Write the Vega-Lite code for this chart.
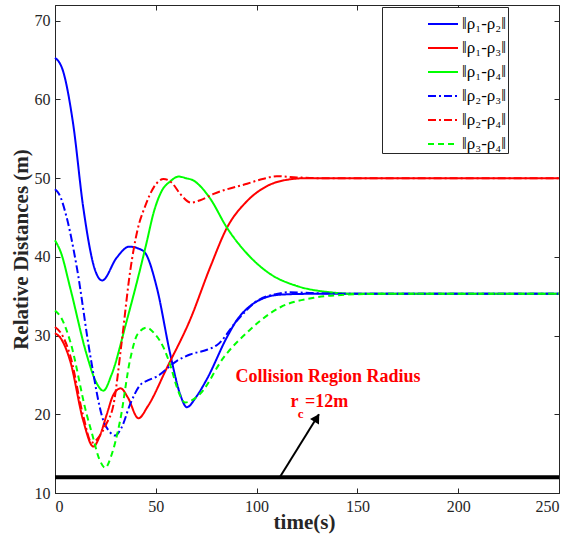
{
  "$schema": "https://vega.github.io/schema/vega-lite/v6.json",
  "width": 504,
  "height": 488,
  "autosize": {"type": "none"},
  "padding": {"left": 55, "top": 5, "right": 12, "bottom": 42},
  "background": "white",
  "config": {
    "view": {"stroke": "#262626", "strokeWidth": 1},
    "font": "Liberation Serif",
    "axis": {
      "grid": false,
      "labelFont": "Liberation Serif",
      "labelFontSize": 16,
      "labelColor": "#262626",
      "titleFont": "Liberation Serif",
      "titleFontSize": 21,
      "titleFontWeight": "bold",
      "titleColor": "#262626",
      "tickColor": "#262626",
      "domainColor": "#262626",
      "tickSize": -5,
      "labelPadding": 10
    },
    "legend": {"labelFont": "Liberation Serif"}
  },
  "datasets": {
    "curves": [
      {"series": "‖ρ₁-ρ₂‖", "t": 0, "v": 65.3}, {"series": "‖ρ₁-ρ₂‖", "t": 4, "v": 63.6}, {"series": "‖ρ₁-ρ₂‖", "t": 9, "v": 56.9}, {"series": "‖ρ₁-ρ₂‖", "t": 14, "v": 46.3}, {"series": "‖ρ₁-ρ₂‖", "t": 19.9, "v": 38.3}, {"series": "‖ρ₁-ρ₂‖", "t": 23.4, "v": 37.0}, {"series": "‖ρ₁-ρ₂‖", "t": 30.6, "v": 39.9}, {"series": "‖ρ₁-ρ₂‖", "t": 36.8, "v": 41.3}, {"series": "‖ρ₁-ρ₂‖", "t": 42, "v": 41.0}, {"series": "‖ρ₁-ρ₂‖", "t": 45, "v": 40.4}, {"series": "‖ρ₁-ρ₂‖", "t": 50.5, "v": 36.1}, {"series": "‖ρ₁-ρ₂‖", "t": 57.2, "v": 27.6}, {"series": "‖ρ₁-ρ₂‖", "t": 62, "v": 22.6}, {"series": "‖ρ₁-ρ₂‖", "t": 65.4, "v": 20.9}, {"series": "‖ρ₁-ρ₂‖", "t": 70, "v": 22.2}, {"series": "‖ρ₁-ρ₂‖", "t": 75.4, "v": 24.5}, {"series": "‖ρ₁-ρ₂‖", "t": 85.3, "v": 29.8}, {"series": "‖ρ₁-ρ₂‖", "t": 90.3, "v": 32.0}, {"series": "‖ρ₁-ρ₂‖", "t": 97, "v": 33.8}, {"series": "‖ρ₁-ρ₂‖", "t": 103, "v": 34.7}, {"series": "‖ρ₁-ρ₂‖", "t": 111.8, "v": 35.2}, {"series": "‖ρ₁-ρ₂‖", "t": 125, "v": 35.3}, {"series": "‖ρ₁-ρ₂‖", "t": 175, "v": 35.3}, {"series": "‖ρ₁-ρ₂‖", "t": 250, "v": 35.3},
      {"series": "‖ρ₁-ρ₃‖", "t": 0, "v": 30.3}, {"series": "‖ρ₁-ρ₃‖", "t": 3, "v": 29.6}, {"series": "‖ρ₁-ρ₃‖", "t": 7.5, "v": 26.8}, {"series": "‖ρ₁-ρ₃‖", "t": 14, "v": 19.2}, {"series": "‖ρ₁-ρ₃‖", "t": 19, "v": 15.9}, {"series": "‖ρ₁-ρ₃‖", "t": 22.3, "v": 17.3}, {"series": "‖ρ₁-ρ₃‖", "t": 25.7, "v": 20.0}, {"series": "‖ρ₁-ρ₃‖", "t": 29, "v": 22.5}, {"series": "‖ρ₁-ρ₃‖", "t": 32.6, "v": 23.3}, {"series": "‖ρ₁-ρ₃‖", "t": 36, "v": 22.2}, {"series": "‖ρ₁-ρ₃‖", "t": 41.4, "v": 19.5}, {"series": "‖ρ₁-ρ₃‖", "t": 46, "v": 21.0}, {"series": "‖ρ₁-ρ₃‖", "t": 55.5, "v": 25.9}, {"series": "‖ρ₁-ρ₃‖", "t": 67, "v": 32.0}, {"series": "‖ρ₁-ρ₃‖", "t": 77, "v": 38.7}, {"series": "‖ρ₁-ρ₃‖", "t": 85.3, "v": 43.7}, {"series": "‖ρ₁-ρ₃‖", "t": 95.3, "v": 47.1}, {"series": "‖ρ₁-ρ₃‖", "t": 105.2, "v": 49.0}, {"series": "‖ρ₁-ρ₃‖", "t": 115.2, "v": 49.8}, {"series": "‖ρ₁-ρ₃‖", "t": 125, "v": 50.0}, {"series": "‖ρ₁-ρ₃‖", "t": 175, "v": 50.0}, {"series": "‖ρ₁-ρ₃‖", "t": 250, "v": 50.0},
      {"series": "‖ρ₁-ρ₄‖", "t": 0, "v": 42.1}, {"series": "‖ρ₁-ρ₄‖", "t": 3, "v": 40.5}, {"series": "‖ρ₁-ρ₄‖", "t": 7.5, "v": 36.1}, {"series": "‖ρ₁-ρ₄‖", "t": 15.7, "v": 27.6}, {"series": "‖ρ₁-ρ₄‖", "t": 20, "v": 24.3}, {"series": "‖ρ₁-ρ₄‖", "t": 24, "v": 23.0}, {"series": "‖ρ₁-ρ₄‖", "t": 28, "v": 25.0}, {"series": "‖ρ₁-ρ₄‖", "t": 35.6, "v": 31.9}, {"series": "‖ρ₁-ρ₄‖", "t": 42.2, "v": 38.4}, {"series": "‖ρ₁-ρ₄‖", "t": 45.6, "v": 42.0}, {"series": "‖ρ₁-ρ₄‖", "t": 48.9, "v": 45.6}, {"series": "‖ρ₁-ρ₄‖", "t": 53, "v": 48.4}, {"series": "‖ρ₁-ρ₄‖", "t": 57.2, "v": 49.6}, {"series": "‖ρ₁-ρ₄‖", "t": 61.3, "v": 50.2}, {"series": "‖ρ₁-ρ₄‖", "t": 65, "v": 50.0}, {"series": "‖ρ₁-ρ₄‖", "t": 68.7, "v": 49.7}, {"series": "‖ρ₁-ρ₄‖", "t": 72, "v": 49.0}, {"series": "‖ρ₁-ρ₄‖", "t": 77, "v": 47.4}, {"series": "‖ρ₁-ρ₄‖", "t": 85.3, "v": 43.7}, {"series": "‖ρ₁-ρ₄‖", "t": 95.3, "v": 40.4}, {"series": "‖ρ₁-ρ₄‖", "t": 106.9, "v": 37.8}, {"series": "‖ρ₁-ρ₄‖", "t": 120, "v": 36.3}, {"series": "‖ρ₁-ρ₄‖", "t": 136.7, "v": 35.5}, {"series": "‖ρ₁-ρ₄‖", "t": 150, "v": 35.3}, {"series": "‖ρ₁-ρ₄‖", "t": 250, "v": 35.3},
      {"series": "‖ρ₂-ρ₃‖", "t": 0, "v": 48.6}, {"series": "‖ρ₂-ρ₃‖", "t": 2, "v": 48.0}, {"series": "‖ρ₂-ρ₃‖", "t": 5.8, "v": 45.0}, {"series": "‖ρ₂-ρ₃‖", "t": 10.8, "v": 38.7}, {"series": "‖ρ₂-ρ₃‖", "t": 17.4, "v": 27.6}, {"series": "‖ρ₂-ρ₃‖", "t": 24, "v": 19.2}, {"series": "‖ρ₂-ρ₃‖", "t": 27, "v": 17.8}, {"series": "‖ρ₂-ρ₃‖", "t": 29.8, "v": 17.3}, {"series": "‖ρ₂-ρ₃‖", "t": 33, "v": 18.3}, {"series": "‖ρ₂-ρ₃‖", "t": 37.3, "v": 21.3}, {"series": "‖ρ₂-ρ₃‖", "t": 42.2, "v": 23.7}, {"series": "‖ρ₂-ρ₃‖", "t": 46, "v": 24.3}, {"series": "‖ρ₂-ρ₃‖", "t": 50.5, "v": 24.8}, {"series": "‖ρ₂-ρ₃‖", "t": 60.5, "v": 26.8}, {"series": "‖ρ₂-ρ₃‖", "t": 67, "v": 27.6}, {"series": "‖ρ₂-ρ₃‖", "t": 75.4, "v": 28.2}, {"series": "‖ρ₂-ρ₃‖", "t": 80.4, "v": 28.8}, {"series": "‖ρ₂-ρ₃‖", "t": 90.3, "v": 31.9}, {"series": "‖ρ₂-ρ₃‖", "t": 100.2, "v": 34.4}, {"series": "‖ρ₂-ρ₃‖", "t": 110, "v": 35.3}, {"series": "‖ρ₂-ρ₃‖", "t": 116, "v": 35.5}, {"series": "‖ρ₂-ρ₃‖", "t": 128, "v": 35.4}, {"series": "‖ρ₂-ρ₃‖", "t": 150, "v": 35.3}, {"series": "‖ρ₂-ρ₃‖", "t": 250, "v": 35.3},
      {"series": "‖ρ₂-ρ₄‖", "t": 0, "v": 31.1}, {"series": "‖ρ₂-ρ₄‖", "t": 3, "v": 30.3}, {"series": "‖ρ₂-ρ₄‖", "t": 7.5, "v": 27.5}, {"series": "‖ρ₂-ρ₄‖", "t": 14, "v": 19.8}, {"series": "‖ρ₂-ρ₄‖", "t": 18.2, "v": 16.4}, {"series": "‖ρ₂-ρ₄‖", "t": 22, "v": 17.2}, {"series": "‖ρ₂-ρ₄‖", "t": 25.5, "v": 18.8}, {"series": "‖ρ₂-ρ₄‖", "t": 29, "v": 21.2}, {"series": "‖ρ₂-ρ₄‖", "t": 33, "v": 29.0}, {"series": "‖ρ₂-ρ₄‖", "t": 37.3, "v": 38.2}, {"series": "‖ρ₂-ρ₄‖", "t": 41, "v": 43.5}, {"series": "‖ρ₂-ρ₄‖", "t": 44.5, "v": 46.3}, {"series": "‖ρ₂-ρ₄‖", "t": 48.9, "v": 48.8}, {"series": "‖ρ₂-ρ₄‖", "t": 53.8, "v": 49.9}, {"series": "‖ρ₂-ρ₄‖", "t": 58, "v": 49.4}, {"series": "‖ρ₂-ρ₄‖", "t": 62.1, "v": 48.0}, {"series": "‖ρ₂-ρ₄‖", "t": 67.5, "v": 46.9}, {"series": "‖ρ₂-ρ₄‖", "t": 72, "v": 47.2}, {"series": "‖ρ₂-ρ₄‖", "t": 78.7, "v": 48.0}, {"series": "‖ρ₂-ρ₄‖", "t": 95.3, "v": 49.3}, {"series": "‖ρ₂-ρ₄‖", "t": 103, "v": 49.9}, {"series": "‖ρ₂-ρ₄‖", "t": 110, "v": 50.25}, {"series": "‖ρ₂-ρ₄‖", "t": 120, "v": 50.1}, {"series": "‖ρ₂-ρ₄‖", "t": 130, "v": 50.0}, {"series": "‖ρ₂-ρ₄‖", "t": 250, "v": 50.0},
      {"series": "‖ρ₃-ρ₄‖", "t": 0, "v": 33.2}, {"series": "‖ρ₃-ρ₄‖", "t": 3, "v": 32.3}, {"series": "‖ρ₃-ρ₄‖", "t": 7.5, "v": 29.3}, {"series": "‖ρ₃-ρ₄‖", "t": 15.7, "v": 20.0}, {"series": "‖ρ₃-ρ₄‖", "t": 18.3, "v": 17.6}, {"series": "‖ρ₃-ρ₄‖", "t": 22, "v": 14.3}, {"series": "‖ρ₃-ρ₄‖", "t": 24.9, "v": 13.2}, {"series": "‖ρ₃-ρ₄‖", "t": 28, "v": 14.8}, {"series": "‖ρ₃-ρ₄‖", "t": 32.3, "v": 19.2}, {"series": "‖ρ₃-ρ₄‖", "t": 37.3, "v": 27.0}, {"series": "‖ρ₃-ρ₄‖", "t": 41, "v": 30.2}, {"series": "‖ρ₃-ρ₄‖", "t": 45.6, "v": 31.0}, {"series": "‖ρ₃-ρ₄‖", "t": 49.5, "v": 30.2}, {"series": "‖ρ₃-ρ₄‖", "t": 53.8, "v": 28.5}, {"series": "‖ρ₃-ρ₄‖", "t": 57.5, "v": 26.0}, {"series": "‖ρ₃-ρ₄‖", "t": 60.5, "v": 23.4}, {"series": "‖ρ₃-ρ₄‖", "t": 64.6, "v": 21.5}, {"series": "‖ρ₃-ρ₄‖", "t": 68, "v": 21.8}, {"series": "‖ρ₃-ρ₄‖", "t": 72, "v": 22.6}, {"series": "‖ρ₃-ρ₄‖", "t": 83.6, "v": 27.2}, {"series": "‖ρ₃-ρ₄‖", "t": 97, "v": 30.8}, {"series": "‖ρ₃-ρ₄‖", "t": 101.9, "v": 31.9}, {"series": "‖ρ₃-ρ₄‖", "t": 111.8, "v": 33.6}, {"series": "‖ρ₃-ρ₄‖", "t": 128.4, "v": 34.8}, {"series": "‖ρ₃-ρ₄‖", "t": 145, "v": 35.2}, {"series": "‖ρ₃-ρ₄‖", "t": 160, "v": 35.3}, {"series": "‖ρ₃-ρ₄‖", "t": 250, "v": 35.3}
    ],
    "radius": [{"v": 12}],
    "arrow": [{"t": 111.5, "v": 12}, {"t": 130.9, "v": 20.0}],
    "arrowhead": [{"t": 129.9, "v": 19.55}],
    "bigtext": [
      {"t": 135.4, "v": 24.7, "label": "Collision Region Radius"},
      {"t": 118.8, "v": 21.6, "label": "r"},
      {"t": 134.7, "v": 21.6, "label": "=12m"}
    ],
    "subtext": [{"t": 121.8, "v": 20.1, "label": "c"}]
  },
  "layer": [
    {
      "data": {"name": "curves"},
      "mark": {"type": "line", "interpolate": "monotone", "strokeWidth": 2},
      "encoding": {
        "x": {"field": "t", "type": "quantitative", "scale": {"domain": [0, 250], "nice": false},
              "axis": {"orient": "bottom", "values": [0, 50, 100, 150, 200, 250], "title": "time(s)", "titleY": 35, "titleBaseline": "alphabetic", "titleX": 249, "labelFont": "Liberation Serif", "titleFont": "Liberation Serif"}},
        "y": {"field": "v", "type": "quantitative", "scale": {"domain": [10, 72], "nice": false, "zero": false},
              "axis": {"orient": "left", "values": [10, 20, 30, 40, 50, 60, 70], "title": "Relative Distances (m)", "titlePadding": 3, "labelFont": "Liberation Serif", "titleFont": "Liberation Serif"}},
        "color": {"field": "series", "type": "nominal",
                  "scale": {"domain": ["‖ρ₁-ρ₂‖", "‖ρ₁-ρ₃‖", "‖ρ₁-ρ₄‖", "‖ρ₂-ρ₃‖", "‖ρ₂-ρ₄‖", "‖ρ₃-ρ₄‖"], "range": ["#0000ff", "#ff0000", "#00ff00", "#0000ff", "#ff0000", "#00ff00"]},
                  "legend": {"title": null, "orient": "none", "legendX": 327, "legendY": 2, "symbolType": "stroke", "symbolSize": 900, "symbolStrokeWidth": 2, "symbolOffset": 44, "labelOffset": 3, "padding": 1, "rowPadding": -4, "strokeColor": "#262626", "fillColor": "white", "labelFont": "Liberation Serif", "labelFontSize": 17, "labelColor": "black", "labelExpr": "datum.label + '\u00a0\u00a0\u00a0\u00a0\u00a0\u00a0\u00a0\u00a0\u00a0\u00a0\u00a0\u00a0\u00a0\u00a0\u00a0\u00a0\u00a0\u00a0\u00a0\u00a0\u00a0\u00a0'"}},
        "strokeDash": {"field": "series", "type": "nominal",
                  "scale": {"domain": ["‖ρ₁-ρ₂‖", "‖ρ₁-ρ₃‖", "‖ρ₁-ρ₄‖", "‖ρ₂-ρ₃‖", "‖ρ₂-ρ₄‖", "‖ρ₃-ρ₄‖"], "range": [[1, 0], [1, 0], [1, 0], [8, 3, 2, 3], [8, 3, 2, 3], [6, 4]]},
                  "legend": {"title": null, "orient": "none", "legendX": 327, "legendY": 2, "symbolType": "stroke", "symbolSize": 900, "symbolStrokeWidth": 2, "symbolOffset": 44, "labelOffset": 3, "padding": 1, "rowPadding": -4, "strokeColor": "#262626", "fillColor": "white", "labelFont": "Liberation Serif", "labelFontSize": 17, "labelColor": "black", "labelExpr": "datum.label + '\u00a0\u00a0\u00a0\u00a0\u00a0\u00a0\u00a0\u00a0\u00a0\u00a0\u00a0\u00a0\u00a0\u00a0\u00a0\u00a0\u00a0\u00a0\u00a0\u00a0\u00a0\u00a0'"}}
      }
    },
    {
      "data": {"name": "radius"},
      "mark": {"type": "rule", "color": "black", "strokeWidth": 4},
      "encoding": {
        "y": {"field": "v", "type": "quantitative", "scale": {"domain": [10, 72], "nice": false, "zero": false}, "axis": null}
      }
    },
    {
      "data": {"name": "arrow"},
      "mark": {"type": "line", "color": "black", "strokeWidth": 2},
      "encoding": {
        "x": {"field": "t", "type": "quantitative", "scale": {"domain": [0, 250], "nice": false},
              "axis": {"orient": "top", "values": [0, 50, 100, 150, 200, 250], "labels": false, "title": null, "domain": false}},
        "y": {"field": "v", "type": "quantitative", "scale": {"domain": [10, 72], "nice": false, "zero": false},
              "axis": {"orient": "right", "values": [10, 20, 30, 40, 50, 60, 70], "labels": false, "title": null, "domain": false}}
      }
    },
    {
      "data": {"name": "arrowhead"},
      "mark": {"type": "point", "shape": "triangle-up", "filled": true, "color": "black", "opacity": 1, "size": 110, "angle": 31.6},
      "encoding": {
        "x": {"field": "t", "type": "quantitative", "scale": {"domain": [0, 250], "nice": false}, "axis": null},
        "y": {"field": "v", "type": "quantitative", "scale": {"domain": [10, 72], "nice": false, "zero": false}, "axis": null}
      }
    },
    {
      "data": {"name": "bigtext"},
      "mark": {"type": "text", "font": "Liberation Serif", "fontWeight": "bold", "fontSize": 18, "color": "#ff0000", "align": "center", "baseline": "middle"},
      "encoding": {
        "x": {"field": "t", "type": "quantitative", "scale": {"domain": [0, 250], "nice": false}, "axis": null},
        "y": {"field": "v", "type": "quantitative", "scale": {"domain": [10, 72], "nice": false, "zero": false}, "axis": null},
        "text": {"field": "label"}
      }
    },
    {
      "data": {"name": "subtext"},
      "mark": {"type": "text", "font": "Liberation Serif", "fontWeight": "bold", "fontSize": 13, "color": "#ff0000", "align": "center", "baseline": "middle"},
      "encoding": {
        "x": {"field": "t", "type": "quantitative", "scale": {"domain": [0, 250], "nice": false}, "axis": null},
        "y": {"field": "v", "type": "quantitative", "scale": {"domain": [10, 72], "nice": false, "zero": false}, "axis": null},
        "text": {"field": "label"}
      }
    }
  ],
  "resolve": {"axis": {"x": "independent", "y": "independent"}}
}
